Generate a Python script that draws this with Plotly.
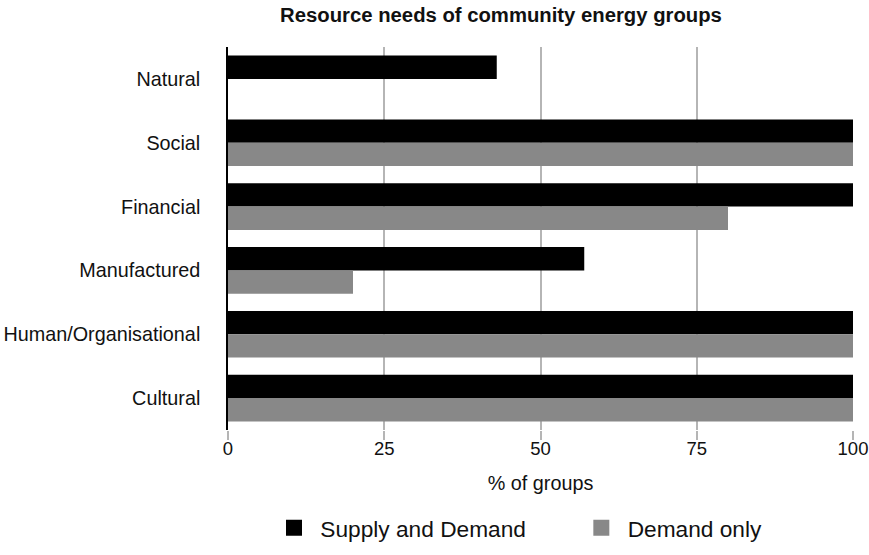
import plotly.graph_objects as go

categories = ["Natural", "Social", "Financial", "Manufactured", "Human/Organisational", "Cultural"]
supply_and_demand = [43, 100, 100, 57, 100, 100]
demand_only = [0, 100, 80, 20, 100, 100]
series_names = ["Supply and Demand", "Demand only"]
series_colors = ["#000000", "#888888"]
x_ticks = [0, 25, 50, 75, 100]

FONT = "Liberation Sans, Arial, Helvetica, sans-serif"
NB = "\u00a0"

fig = go.Figure()
for vals, name, col in zip([supply_and_demand, demand_only], series_names, series_colors):
    fig.add_trace(go.Bar(y=categories, x=vals, orientation="h", name=name, showlegend=False,
                         marker=dict(color=col, line=dict(width=0))))
# legend entries with larger square swatches
legend_labels = [NB + series_names[0] + NB * 8, NB + series_names[1]]
for label, col in zip(legend_labels, series_colors):
    fig.add_trace(go.Scatter(x=[None], y=[None], mode="markers", name=label,
                             marker=dict(symbol="square", size=18, color=col, line=dict(width=0)),
                             showlegend=True, hoverinfo="skip"))

fig.update_layout(
    width=869, height=555,
    margin=dict(l=228, r=16, t=47, b=125, autoexpand=False),
    paper_bgcolor="white", plot_bgcolor="white",
    font=dict(family=FONT, size=19.8, color="#111111"),
    barmode="group", bargap=0.27, bargroupgap=0,
    title=dict(text="<b>Resource needs of community energy groups</b>",
               x=501/869, xanchor="center", y=1-15/555, yanchor="middle",
               font=dict(size=20.3, color="#111111")),
    legend=dict(orientation="h", x=(274-228)/625, xanchor="left", y=-98/383, yanchor="middle",
                font=dict(size=22.7, color="#111111"), itemwidth=30, traceorder="normal"),
    xaxis=dict(range=[0, 100], tickvals=x_ticks, showgrid=True, gridcolor="#b5b5b5", gridwidth=1.5,
               zeroline=False, showline=False, ticks="outside", ticklen=9, tickcolor="#b5b5b5",
               tickwidth=1.5, automargin=False, ticklabelstandoff=-7,
               tickfont=dict(size=18.5), title=dict(text="% of groups", font=dict(size=19.8), standoff=17)),
    yaxis=dict(categoryorder="array", categoryarray=categories, autorange="reversed",
               showline=True, linecolor="#000000", linewidth=1.5, showgrid=False, automargin=False,
               ticks="", ticklabelstandoff=22, tickfont=dict(size=19.8)),
)

fig.write_html("out.html")
